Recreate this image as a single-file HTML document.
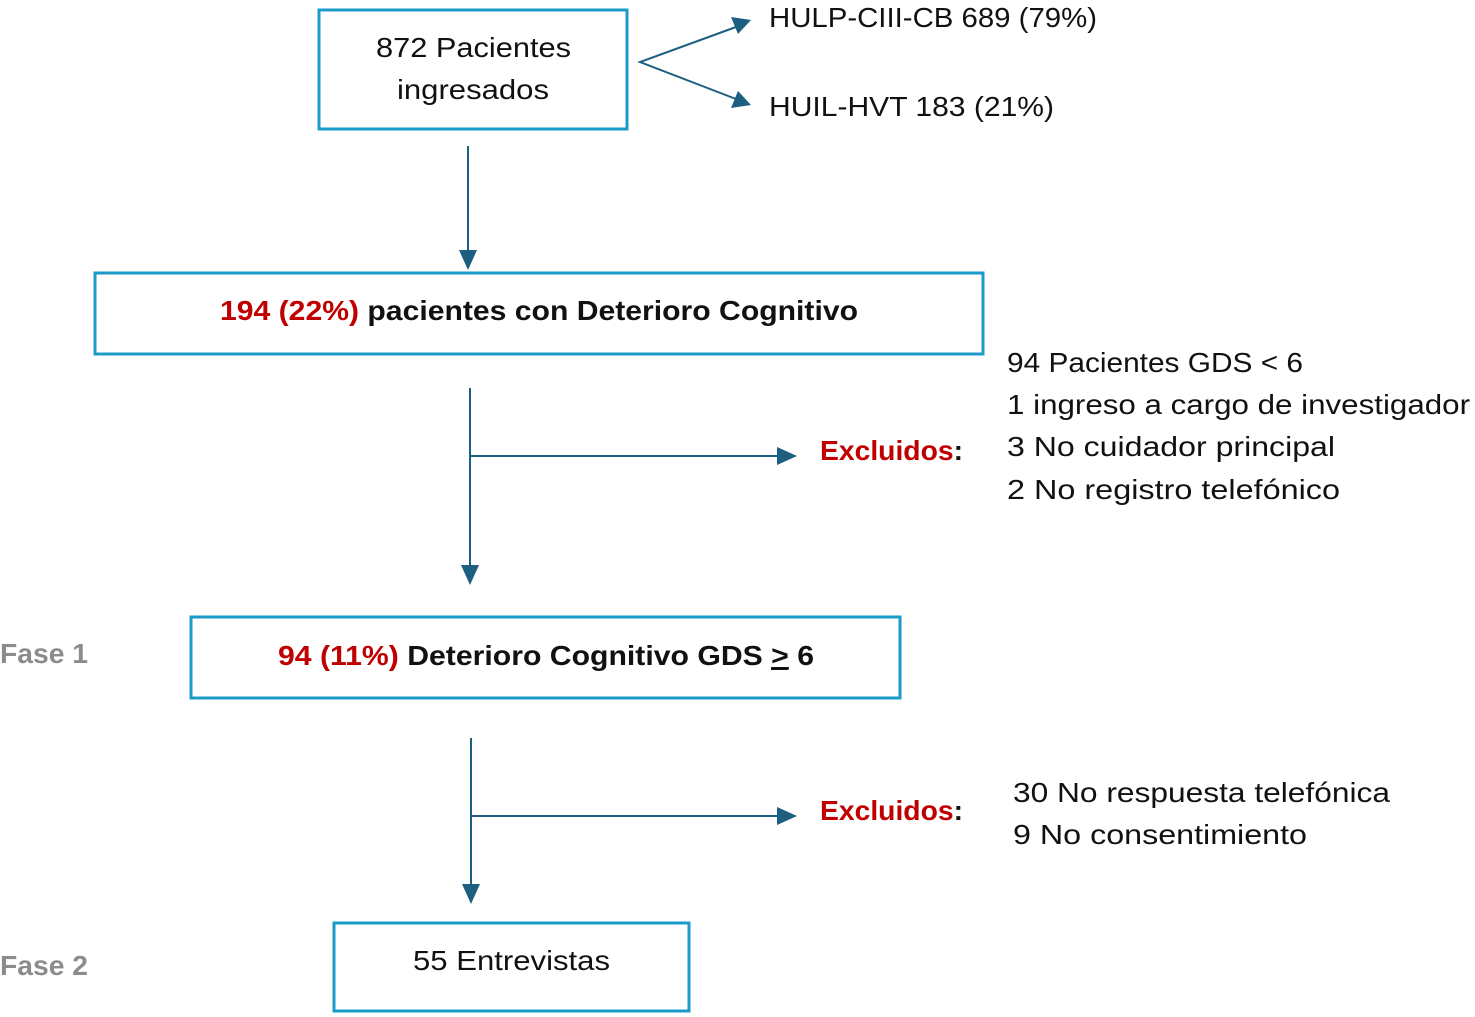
<!DOCTYPE html>
<html><head><meta charset="utf-8"><style>
html,body{margin:0;padding:0;background:#fff;}
svg{display:block;}
text{font-family:"Liberation Sans",sans-serif;font-size:28px;fill:#111;}
.b{font-weight:bold;}
.r{fill:#c00000;}
.g{fill:#8c8c8c;font-weight:bold;}
</style></head><body>
<svg width="1475" height="1017" viewBox="0 0 1475 1017" xmlns="http://www.w3.org/2000/svg">
<defs>
<marker id="a" markerWidth="10" markerHeight="10" refX="9" refY="5" orient="auto" markerUnits="userSpaceOnUse" viewBox="0 0 10 10">
</marker>
</defs>
<g fill="none" stroke="#1a9bc9" stroke-width="3">
<rect x="319" y="10" width="308" height="119"/>
<rect x="95" y="273" width="888" height="81"/>
<rect x="191" y="617" width="709" height="81"/>
<rect x="334" y="923" width="355" height="88"/>
</g>
<g stroke="#1d5f80" stroke-width="2" fill="none">
<polyline points="736,27 640,62 736,99"/>
<line x1="468" y1="146" x2="468" y2="252"/>
<line x1="470" y1="388" x2="470" y2="568"/>
<line x1="470" y1="456" x2="780" y2="456"/>
<line x1="471" y1="738" x2="471" y2="887"/>
<line x1="471" y1="816" x2="780" y2="816"/>
</g>
<g fill="#1d5f80">
<polygon points="751,20 731,17 738,34"/>
<polygon points="751,105 738,91 731,108"/>
<polygon points="468,270 459,250 477,250"/>
<polygon points="470,585 461,565 479,565"/>
<polygon points="797,456 777,447 777,465"/>
<polygon points="471,904 462,884 480,884"/>
<polygon points="797,816 777,807 777,825"/>
</g>
<text x="376" y="57" textLength="195" lengthAdjust="spacingAndGlyphs">872 Pacientes</text>
<text x="397" y="99" textLength="152" lengthAdjust="spacingAndGlyphs">ingresados</text>
<text x="769" y="27" textLength="328" lengthAdjust="spacingAndGlyphs">HULP-CIII-CB 689 (79%)</text>
<text x="769" y="116" textLength="285" lengthAdjust="spacingAndGlyphs">HUIL-HVT 183 (21%)</text>
<text x="220" y="320" class="b" textLength="638" lengthAdjust="spacingAndGlyphs"><tspan class="r">194 (22%)</tspan> pacientes con Deterioro Cognitivo</text>
<text x="1007" y="372" textLength="296" lengthAdjust="spacingAndGlyphs">94 Pacientes GDS &lt; 6</text>
<text x="1007" y="414" textLength="463" lengthAdjust="spacingAndGlyphs">1 ingreso a cargo de investigador</text>
<text x="1007" y="456" textLength="328" lengthAdjust="spacingAndGlyphs">3 No cuidador principal</text>
<text x="1007" y="499" textLength="333" lengthAdjust="spacingAndGlyphs">2 No registro telefónico</text>
<text x="820" y="460" class="b" textLength="143" lengthAdjust="spacingAndGlyphs"><tspan class="r">Excluidos</tspan>:</text>
<text x="0" y="663" class="g" textLength="88" lengthAdjust="spacingAndGlyphs">Fase 1</text>
<text x="278" y="665" class="b" textLength="536" lengthAdjust="spacingAndGlyphs"><tspan class="r">94 (11%)</tspan> Deterioro Cognitivo GDS <tspan text-decoration="underline">&gt;</tspan> 6</text>
<line x1="771" y1="669" x2="787" y2="669" stroke="#111" stroke-width="2"/>
<text x="820" y="820" class="b" textLength="143" lengthAdjust="spacingAndGlyphs"><tspan class="r">Excluidos</tspan>:</text>
<text x="1013" y="802" textLength="377" lengthAdjust="spacingAndGlyphs">30 No respuesta telefónica</text>
<text x="1013" y="844" textLength="294" lengthAdjust="spacingAndGlyphs">9 No consentimiento</text>
<text x="0" y="975" class="g" textLength="88" lengthAdjust="spacingAndGlyphs">Fase 2</text>
<text x="413" y="970" textLength="197" lengthAdjust="spacingAndGlyphs">55 Entrevistas</text>
</svg>
</body></html>
